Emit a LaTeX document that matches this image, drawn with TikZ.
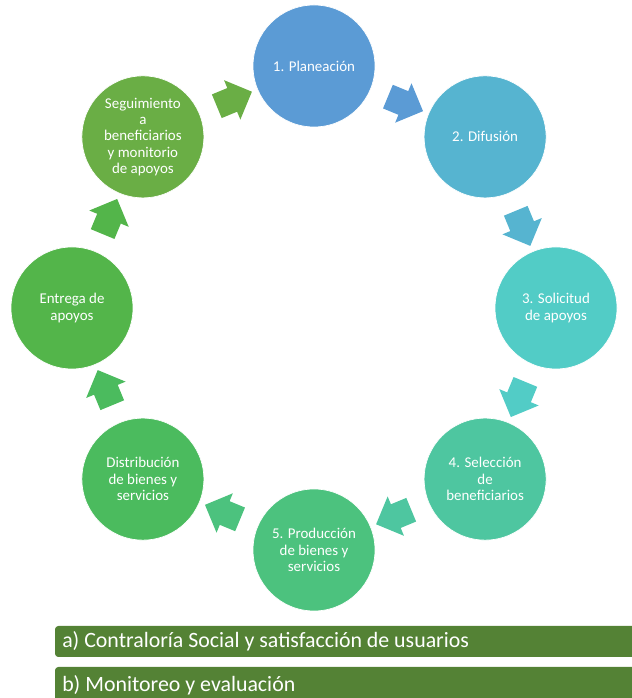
\documentclass[tikz,border=0pt]{standalone}
\usepackage{fontspec}
\setmainfont{Carlito}
\usetikzlibrary{shapes.arrows,calc}
\definecolor{c1}{RGB}{91,155,213}
\definecolor{c2}{RGB}{86,180,208}
\definecolor{c3}{RGB}{82,204,198}
\definecolor{c4}{RGB}{78,198,160}
\definecolor{c5}{RGB}{76,194,126}
\definecolor{c6}{RGB}{75,187,94}
\definecolor{c7}{RGB}{83,181,74}
\definecolor{c8}{RGB}{106,174,69}
\definecolor{barg}{RGB}{84,130,53}
\begin{document}
\begin{tikzpicture}[x=0.75pt,y=0.75pt,
  stage/.style={circle, minimum size=91.5pt, inner sep=0pt, text=white, align=center,
    font=\fontsize{11.2}{12.2}\selectfont, draw=white, line width=0.5pt},
  cyc/.style={single arrow, minimum height=28.5pt, inner xsep=0pt, inner ysep=9.4pt,
    single arrow head extend=6.4pt, draw=none},
  bartext/.style={anchor=west, text=white, inner sep=0pt, font=\fontsize{16.4}{18}\selectfont}]
\useasboundingbox (0,0) rectangle (631,698);
\coordinate (C) at (314,390);
\node[stage, fill=c1] (s1) at ($(C)+(90:242)$) {1. Planeación};
\node[stage, fill=c2] (s2) at ($(C)+(45:242)$) {2. Difusión};
\node[stage, fill=c3] (s3) at ($(C)+(0:242)$) {3. Solicitud\\de apoyos};
\node[stage, fill=c4] (s4) at ($(C)+(-45:242)$) {4. Selección\\de\\beneficiarios};
\node[stage, fill=c5] (s5) at ($(C)+(-90:242)$) {5. Producción\\de bienes y\\servicios};
\node[stage, fill=c6] (s6) at ($(C)+(-135:242)$) {Distribución\\de bienes y\\servicios};
\node[stage, fill=c7] (s7) at ($(C)+(180:242)$) {Entrega de\\apoyos};
\node[stage, fill=c8] (s8) at ($(C)+(135:242)$) {Seguimiento\\a\\beneficiarios\\y monitorio\\de apoyos};
\node[cyc, fill=c1, rotate=-22.5] (a1) at ($(s1)!0.5!(s2)$) {};
\node[cyc, fill=c2, rotate=-67.5] (a2) at ($(s2)!0.5!(s3)$) {};
\node[cyc, fill=c3, rotate=-112.5] (a3) at ($(s3)!0.5!(s4)$) {};
\node[cyc, fill=c4, rotate=-157.5] (a4) at ($(s4)!0.5!(s5)$) {};
\node[cyc, fill=c5, rotate=157.5] (a5) at ($(s5)!0.5!(s6)$) {};
\node[cyc, fill=c6, rotate=112.5] (a6) at ($(s6)!0.5!(s7)$) {};
\node[cyc, fill=c7, rotate=67.5] (a7) at ($(s7)!0.5!(s8)$) {};
\node[cyc, fill=c8, rotate=22.5] (a8) at ($(s8)!0.5!(s1)$) {};
\fill[barg, rounded corners=2.5pt] (55,41) rectangle (645,72);
\node[bartext] (ta) at (62,57) {a) Contraloría Social y satisfacción de usuarios};
\fill[barg, rounded corners=2.5pt] (55,-8) rectangle (645,31);
\node[bartext] (tb) at (62,13) {b) Monitoreo y evaluación};
\end{tikzpicture}
\end{document}
